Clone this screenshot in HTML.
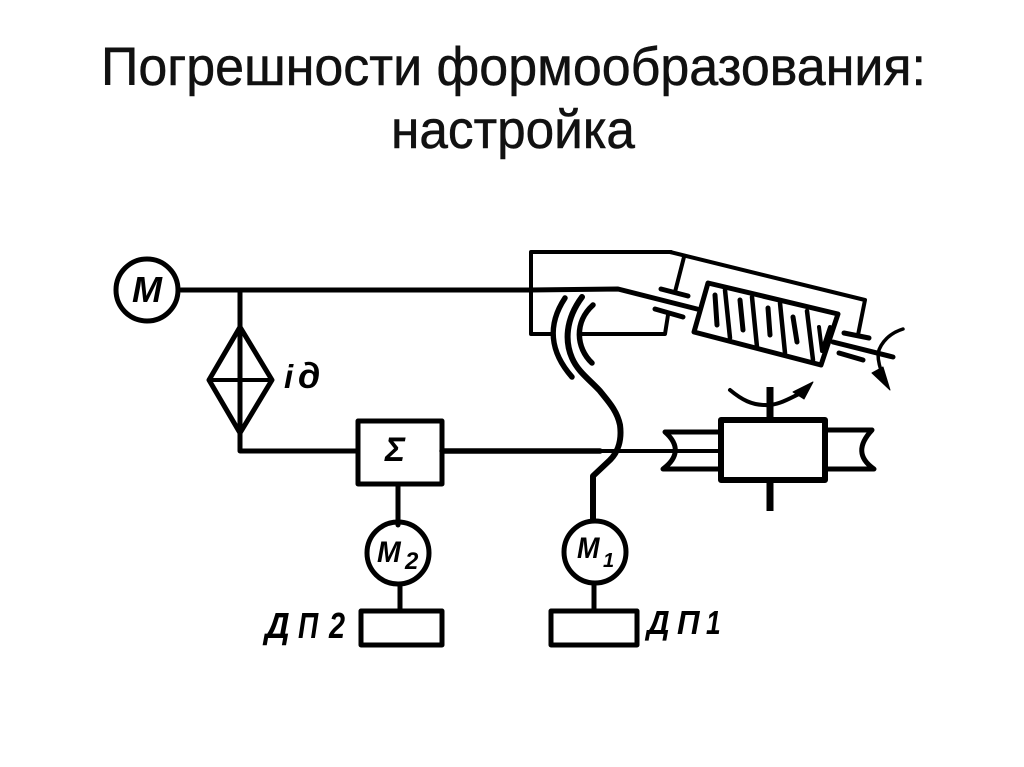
<!DOCTYPE html>
<html lang="ru"><head><meta charset="utf-8"><title>Погрешности формообразования</title>
<style>html,body{margin:0;padding:0;background:#fff}svg{display:block}</style></head>
<body>
<svg width="1024" height="767" viewBox="0 0 1024 767" xmlns="http://www.w3.org/2000/svg">
<rect width="1024" height="767" fill="#fff"/>
<g font-family="'Liberation Sans',sans-serif" font-size="54" fill="#111" stroke="#111" stroke-width=".5">
<text x="101" y="85" textLength="825" lengthAdjust="spacingAndGlyphs">Погрешности формообразования:</text>
<text x="391" y="148" textLength="244" lengthAdjust="spacingAndGlyphs">настройка</text>
</g>
<g fill="none" stroke="#000" stroke-linejoin="round" stroke-linecap="round">
<!-- motor M -->
<circle cx="147" cy="290" r="31" stroke-width="5"/>
<path d="M181 290H530L618 289L697 309" stroke-width="5"/>
<path d="M240 290V451H357" stroke-width="5"/>
<!-- diamond -->
<path d="M240 327L209 380L240 433L272 380Z" stroke-width="5"/>
<path d="M209 380H272" stroke-width="4"/>
<!-- sum -->
<rect x="358" y="421" width="84" height="63" stroke-width="5"/>
<path d="M442 451H600" stroke-width="5.5"/>
<path d="M600 451H720" stroke-width="4"/>
<path d="M398 484V525" stroke-width="5"/>
<circle cx="398" cy="553" r="31" stroke-width="5"/>
<path d="M400 585V611" stroke-width="5"/>
<rect x="361" y="611" width="81" height="34" stroke-width="5"/>
<!-- M1 -->
<circle cx="595" cy="552" r="31" stroke-width="5"/>
<path d="M593 520V476L610 460C618 452 622 440 620 425C617 410 607 400 600 391C590 380 578 372 572 358C565 342 565 320 582 297" stroke-width="6"/>
<path d="M594 610V584" stroke-width="5"/>
<rect x="551" y="611" width="86" height="34" stroke-width="5"/>
<!-- coupling arcs -->
<path d="M565 298C547 325 550 352 572 377" stroke-width="5.5"/>
<path d="M593 305C574 322 576 348 592 363" stroke-width="5.5"/>
<!-- frame -->
<path d="M671 252H531V334H553M579 334H665L668 315" stroke-width="4"/>
<path d="M670 252L865 300L858 335" stroke-width="4"/>
<path d="M684 257L675 292" stroke-width="4"/>
<path d="M661 289L688 296" stroke-width="5"/>
<path d="M655 309L683 317" stroke-width="5"/>
<path d="M844 333L869 338" stroke-width="5"/>
<path d="M839 353L863 360" stroke-width="5"/>
<path d="M833 342L893 357" stroke-width="5"/>
<!-- gear block -->
<path d="M708 283L838 314L821 365L694 332Z" stroke-width="5"/>
<path d="M725 290L730 338M752 297L757 347M780 303L785 353M807 311L813 360" stroke-width="4.5"/>
<path d="M715 295L717 325M740 300L743 330M768 308L770 335M793 317L797 342" stroke-width="5"/>
<path d="M819 327L822 351L830 327" stroke-width="4"/>
<!-- rotation right -->
<path d="M903 329C890 333 881 342 878 353C878 362 880 368 883 375" stroke-width="3.5"/>
<path d="M872 373L890 390L883 367Z" fill="#000" stroke-width="1"/>
<!-- table -->
<rect x="721" y="420" width="104" height="60" stroke-width="6"/>
<path d="M770 387V420M770 482V511" stroke-width="7" stroke-linecap="butt"/>
<path d="M730 390C742 400 752 405 765 405C778 406 790 398 803 392" stroke-width="4"/>
<path d="M793 392L813 382L804 399Z" fill="#000" stroke-width="1"/>
<!-- pipes -->
<path d="M720 432H665C680 445 678 458 663 469H720" stroke-width="5"/>
<path d="M828 430H872C858 445 858 458 874 469H828" stroke-width="5"/>
</g>
<g font-family="'Liberation Sans',sans-serif" font-style="italic" font-weight="bold" fill="#000">
<text x="132" y="302" font-size="36" textLength="30" lengthAdjust="spacingAndGlyphs">М</text>
<text x="284" y="388" font-size="33">i</text>
<text x="298" y="388" font-size="36">д</text>
<text x="385" y="461" font-size="34">Σ</text>
<text transform="translate(377,562) scale(.95,1)" font-size="30">М</text>
<text x="405" y="569" font-size="24">2</text>
<text transform="translate(577,558) scale(.9,1)" font-size="30">М</text>
<text x="603" y="567" font-size="20">1</text>
<text transform="translate(265,638) scale(.95,1)" font-size="36">Д</text>
<text transform="translate(298,638) scale(.78,1)" font-size="36">П</text>
<text transform="translate(329,638) scale(.8,1)" font-size="36">2</text>
<text transform="translate(647,634) scale(.95,1)" font-size="33">Д</text>
<text transform="translate(677,634) scale(.95,1)" font-size="33">П</text>
<text transform="translate(706,634) scale(.8,1)" font-size="33">1</text>
</g>
</svg>
</body></html>
